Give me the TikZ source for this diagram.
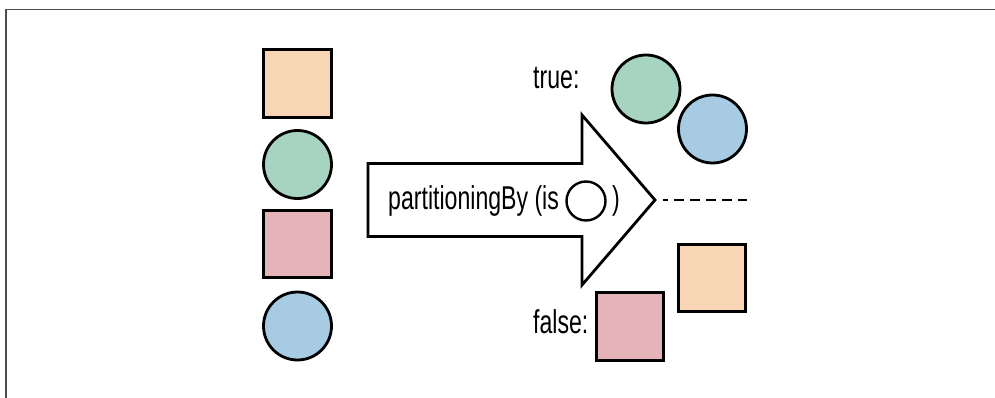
\documentclass[tikz,border=0pt]{standalone}
\usepackage{fontspec}
\setmainfont{Liberation Sans}[FakeStretch=0.70]
\definecolor{peach}{HTML}{F8D5B5}
\definecolor{mint}{HTML}{A6D4C0}
\definecolor{rose}{HTML}{E4B4B8}
\definecolor{sky}{HTML}{A6CBE2}
\definecolor{framegray}{HTML}{4D4D4D}
\tikzset{
  sq/.style={draw=black, line width=2.8pt, minimum size=67.5pt, inner sep=0pt, rectangle},
  circ/.style={draw=black, line width=2.8pt, minimum size=68pt, inner sep=0pt, circle},
  lbl/.style={font=\fontsize{33}{36}\selectfont, inner sep=0pt, anchor=base west},
}
\begin{document}
\begin{tikzpicture}[x=1pt, y=-1pt]
\useasboundingbox (0,0) rectangle (995,398);
% frame
\draw[framegray, line width=1.6pt] (6,398) -- (6,9.5) -- (995,9.5);
% left column
\node[sq, fill=peach] (s1) at (297.5,83.5) {};
\node[circ, fill=mint] (c1) at (297.5,164.5) {};
\node[sq, fill=rose] (s2) at (297.5,244) {};
\node[circ, fill=sky] (c2) at (297.5,326) {};
% arrow
\draw[line width=2.8pt, line join=miter, fill=white]
  (368,163.5) -- (582,163.5) -- (582,115) -- (655,200) -- (582,285) -- (582,236.5) -- (368,236.5) -- cycle;
\coordinate (tip) at (655,200);
\node[lbl] (ptxt) at (388,209) {partitioningBy (is};
\node[draw=black, line width=2.4pt, circle, minimum size=39pt, inner sep=0pt] (pc) at (586,201) {};
\node[lbl] (pclose) at (612,209) {)};
% dashed divider
\coordinate (d1) at (663,200);
\coordinate (d2) at (747,200);
\draw[line width=2.8pt, dash pattern=on 10pt off 6pt, dash phase=5pt] (d1) -- (d2);
% true group
\node[lbl] (ttrue) at (533,89) {true:};
\node[circ, fill=mint] (c3) at (646,89) {};
\node[circ, fill=sky] (c4) at (712.5,129) {};
% false group
\node[sq, fill=peach] (s3) at (712,278) {};
\node[sq, fill=rose] (s4) at (630,326.5) {};
\node[lbl] (tfalse) at (533,333) {false:};
\end{tikzpicture}
\end{document}
